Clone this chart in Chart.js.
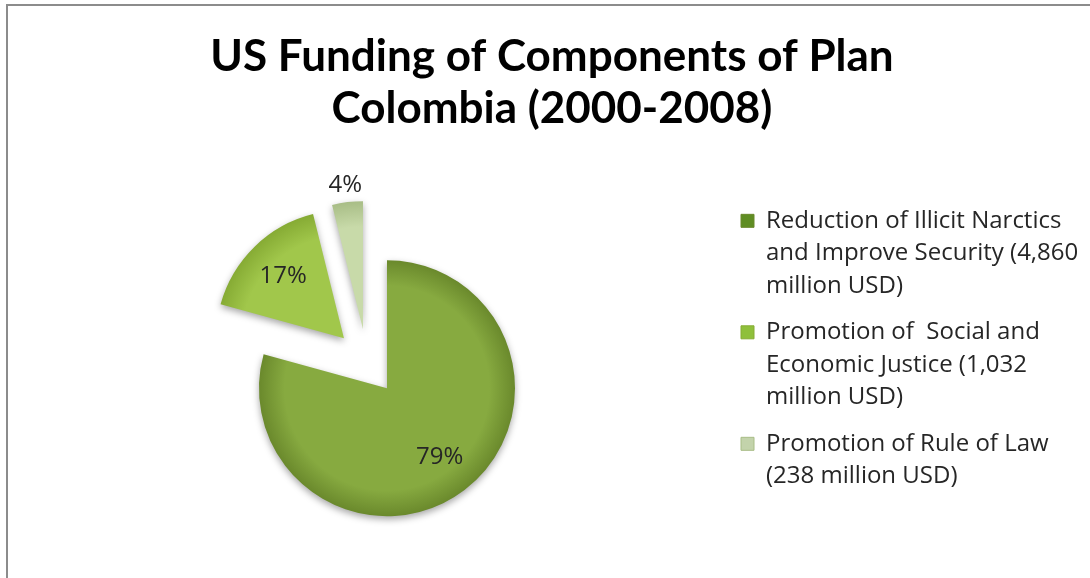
<!DOCTYPE html>
<html lang="en">

<head>
    <meta charset="UTF-8">
    <meta name="viewport" content="width=device-width, initial-scale=1.0">
    <title>US Funding of Components of Plan Colombia (2000-2008)</title>
    <!-- Chart.js -->
    <script src="https://cdn.jsdelivr.net/npm/chart.js"></script>
    <style>
        html, body { margin: 0; padding: 0; background: #fff; overflow: hidden; }
        /* chart frame, runs off the right and bottom edges */
        #frame {
            position: absolute; left: 6px; top: 4px;
            width: 1120px; height: 620px;
            border: 2px solid #8c8c8c; box-sizing: border-box;
        }
        #fundingChart { position: absolute; left: 7px; top: 0; }
    </style>
</head>

<body>
    <div id="frame"></div>
    <canvas id="fundingChart" width="1090" height="578"></canvas>

    <script>
        // Plan Colombia components, each label split into its legend lines
        var components = [
            ['Reduction of Illicit Narctics', 'and Improve Security (4,860', 'million USD)'],
            ['Promotion of  Social and', 'Economic Justice (1,032', 'million USD)'],
            ['Promotion of Rule of Law', '(238 million USD)']
        ];
        var funding = [4860, 1032, 238]; // million USD

        var sliceColors = ['#87aa40', '#a1c74b', '#c8daa9'];
        var rimColors = ['#6a892c', '#86ab34', '#a8bd86'];
        var legendColors = ['#5f8d23', '#8fc03b', '#c3d3ab'];

        var RADIUS = 128;        // pie radius in px
        var EXPLODE = 33;        // how far every slice is pulled out
        var LEGEND_WIDTH = 370;  // room kept for the legend column

        // radial shading so the rim of each slice is a little darker
        function sliceFill(context) {
            var chart = context.chart;
            var area = chart.chartArea;
            var i = context.dataIndex;
            if (!area) return sliceColors[i];
            var cx = (area.left + area.right) / 2;
            var cy = (area.top + area.bottom) / 2;
            var g = chart.ctx.createRadialGradient(cx, cy, 0, cx, cy, RADIUS);
            g.addColorStop(0, sliceColors[i]);
            g.addColorStop(0.8, sliceColors[i]);
            g.addColorStop(1, rimColors[i]);
            return g;
        }

        // draw each arc pulled out along its bisector, with a soft shadow
        var explodePlugin = {
            id: 'explode',
            beforeDatasetDraw: function (chart, args) {
                var ctx = chart.ctx;
                args.meta.data.forEach(function (arc) {
                    var mid = (arc.startAngle + arc.endAngle) / 2;
                    ctx.save();
                    ctx.translate(Math.cos(mid) * EXPLODE, Math.sin(mid) * EXPLODE);
                    ctx.shadowColor = 'rgba(0, 0, 0, 0.35)';
                    ctx.shadowBlur = 7;
                    ctx.shadowOffsetY = 3;
                    arc.draw(ctx);
                    ctx.restore();
                });
                return false;
            }
        };

        // percentage labels; very thin slices get theirs outside
        var percentPlugin = {
            id: 'percentLabels',
            afterDatasetsDraw: function (chart) {
                var ctx = chart.ctx;
                var meta = chart.getDatasetMeta(0);
                var total = funding.reduce(function (a, b) { return a + b; }, 0);
                ctx.save();
                ctx.font = '24px "Open Sans"';
                ctx.fillStyle = '#262626';
                ctx.textAlign = 'center';
                ctx.textBaseline = 'middle';
                meta.data.forEach(function (arc, i) {
                    var share = funding[i] / total;
                    var mid = (arc.startAngle + arc.endAngle) / 2;
                    var dist = EXPLODE + arc.outerRadius * (share < 0.05 ? 1.13 : 0.68);
                    ctx.fillText(Math.round(share * 100) + '%',
                        arc.x + Math.cos(mid) * dist, arc.y + Math.sin(mid) * dist);
                });
                ctx.restore();
            }
        };

        // fixed-width legend column so the pie sits left of it
        var legendWidthPlugin = {
            id: 'legendWidth',
            afterInit: function (chart) {
                var fit = chart.legend.fit;
                chart.legend.fit = function () {
                    fit.call(this);
                    this.width = LEGEND_WIDTH;
                };
            }
        };

        var ctx = document.getElementById('fundingChart').getContext('2d');
        var fundingChart = new Chart(ctx, {
            type: 'pie',
            data: {
                labels: components,
                datasets: [{
                    data: funding,
                    backgroundColor: sliceFill,
                    borderWidth: 0
                }]
            },
            options: {
                responsive: false,
                animation: false,
                events: [],
                radius: RADIUS,
                layout: {
                    padding: { left: 0, right: 0, top: 0, bottom: 49 }
                },
                plugins: {
                    title: {
                        display: true,
                        text: ['US Funding of Components of Plan', 'Colombia (2000-2008)'],
                        color: '#000',
                        font: { family: 'Lato', size: 44, weight: 'bold', lineHeight: 1.18 },
                        padding: { top: 31, bottom: 60 }
                    },
                    legend: {
                        position: 'right',
                        align: 'start',
                        fullSize: false,
                        labels: {
                            boxWidth: 13,
                            boxHeight: 13,
                            padding: 14,
                            color: '#262626',
                            font: { family: 'Open Sans', size: 24, lineHeight: 1.354 },
                            generateLabels: function () {
                                return components.map(function (lines, i) {
                                    return {
                                        text: lines,
                                        fillStyle: legendColors[i],
                                        strokeStyle: rimColors[i],
                                        lineWidth: 1,
                                        fontColor: '#262626',
                                        hidden: false,
                                        index: i
                                    };
                                });
                            }
                        }
                    },
                    tooltip: { enabled: false }
                }
            },
            plugins: [explodePlugin, percentPlugin, legendWidthPlugin]
        });
    </script>
</body>

</html>
